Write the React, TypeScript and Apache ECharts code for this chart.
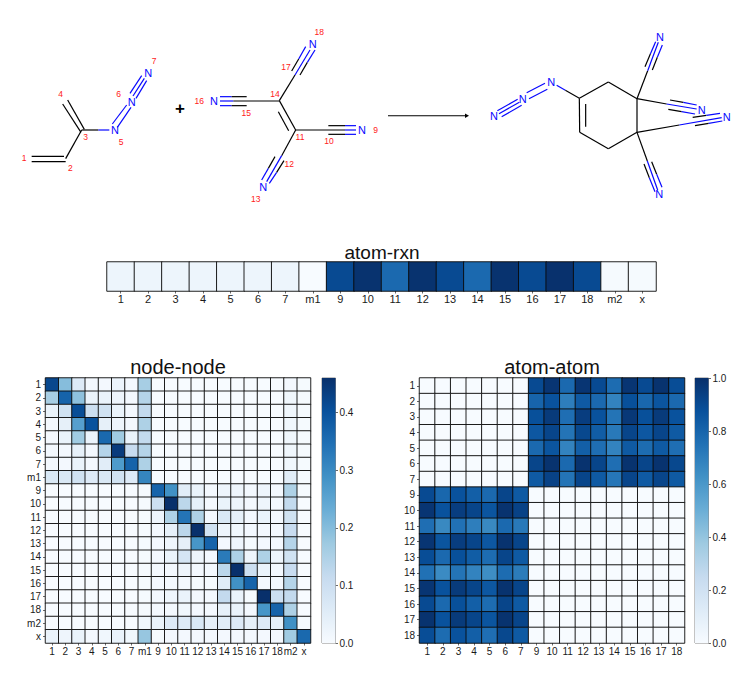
import React, { useEffect, useRef } from "react";
import * as echarts from "echarts";

const nodeLabels = ["1","2","3","4","5","6","7","m1","9","10","11","12","13","14","15","16","17","18","m2","x"];
const atomLabels = ["1","2","3","4","5","6","7","9","10","11","12","13","14","15","16","17","18"];
const blues = ["#f7fbff","#deebf7","#c6dbef","#9ecae1","#6baed6","#4292c6","#2171b5","#08519c","#08306b"];

const atomRxnValues = [0.05,0.05,0.05,0.05,0.05,0.05,0.05,0.0,0.9,0.99,0.78,0.99,0.9,0.78,0.99,0.9,0.995,0.9,0.01,0.01];

const nodeNode = [
  [.42,.20,.06,.01,.01,.025,.01,.16,0,0,0,0,0,0,0,0,0,0,.01,.005],
  [.16,.37,.19,.03,.03,.02,.01,.14,0,0,0,0,0,0,0,0,0,0,.015,.005],
  [.03,.09,.41,.10,.09,.03,.01,.12,0,0,0,0,0,0,0,0,0,0,.015,.005],
  [.01,.04,.26,.40,.04,.02,.01,.15,0,0,0,0,0,0,0,0,0,0,.015,.005],
  [.01,.03,.17,.03,.36,.17,.03,.12,0,0,0,0,0,0,0,0,0,0,.015,.005],
  [.01,.01,.04,.01,.14,.44,.11,.14,0,0,0,0,0,0,0,0,0,0,.015,.005],
  [.01,.01,.03,.01,.05,.27,.37,.15,0,0,0,0,0,0,0,0,0,0,.015,.005],
  [.07,.07,.09,.06,.07,.09,.06,.31,0,0,0,0,0,0,0,0,0,0,.05,.005],
  [0,0,0,0,0,0,0,.005,.37,.29,.05,.03,.01,.02,.02,.01,.02,.01,.15,.005],
  [0,0,0,0,0,0,0,.005,.10,.46,.13,.04,.01,.03,.02,.01,.02,.01,.12,0],
  [0,0,0,0,0,0,0,.005,.02,.15,.34,.15,.01,.07,.04,.01,.03,.01,.09,0],
  [0,0,0,0,0,0,0,.005,.01,.04,.13,.46,.09,.02,.015,.01,.01,.01,.11,0],
  [0,0,0,0,0,0,0,.005,.01,.02,.04,.28,.37,.01,.02,.005,.01,.01,.14,0],
  [0,0,0,0,0,0,0,.005,.01,.03,.08,.02,.01,.33,.15,.02,.15,.02,.09,0],
  [0,0,0,0,0,0,0,.005,.01,.01,.02,.01,.01,.13,.46,.10,.03,.01,.11,0],
  [0,0,0,0,0,0,0,.005,.01,.01,.01,.005,.005,.05,.29,.37,.01,.01,.14,0],
  [0,0,0,0,0,0,0,.005,.01,.02,.03,.01,.01,.12,.03,.005,.46,.10,.12,0],
  [0,0,0,0,0,0,0,.005,.01,.01,.015,.01,.01,.04,.03,.01,.28,.37,.15,0],
  [0,0,0,0,0,0,0,.015,.03,.06,.06,.07,.04,.05,.06,.04,.06,.04,.29,.005],
  [.03,.02,.03,.01,.015,.03,.015,.18,.005,.01,.01,.01,.01,.01,.01,.01,.01,.01,.17,.36],
];

const atomAtomTopRight = [
  [.90,.98,.78,.98,.90,.77,.98,.90,.99,.89],
  [.80,.87,.70,.84,.78,.68,.88,.79,.86,.78],
  [.88,.96,.76,.95,.87,.74,.97,.88,.96,.87],
  [.85,.92,.74,.91,.83,.72,.92,.85,.92,.84],
  [.78,.86,.68,.82,.76,.68,.84,.77,.84,.76],
  [.92,.99,.78,.99,.92,.76,.99,.92,.99,.91],
  [.84,.93,.74,.92,.84,.73,.92,.84,.92,.84],
];
const atomAtomBottomLeft = [
  [.90,.79,.87,.82,.78,.92,.84],
  [.98,.87,.95,.92,.86,.99,.93],
  [.76,.66,.75,.70,.66,.78,.72],
  [.98,.86,.95,.92,.85,.99,.92],
  [.89,.78,.88,.83,.77,.92,.84],
  [.75,.65,.74,.68,.64,.77,.71],
  [.98,.87,.96,.92,.85,.99,.92],
  [.90,.78,.88,.82,.77,.92,.84],
  [.99,.87,.96,.92,.86,.99,.92],
  [.89,.77,.87,.82,.76,.91,.84],
];
const nodeBarTicks = [0, 0.1, 0.2, 0.3, 0.4];
const atomBarTicks = [0, 0.2, 0.4, 0.6, 0.8, 1.0];
const nodeMax = 0.46;

const FONT = "Liberation Sans";
const TICK = "#1a1a1a";
const BLUE = "#0808ff";
const BLACK = "#000000";

function cells(rows: number[][]) {
  const out: number[][] = [];
  rows.forEach((r, j) => r.forEach((v, i) => out.push([i, j, v])));
  return out;
}
function atomRows() {
  const rows: number[][] = [];
  atomAtomTopRight.forEach((r) => rows.push([0,0,0,0,0,0,0,...r]));
  atomAtomBottomLeft.forEach((r) => rows.push([...r,0,0,0,0,0,0,0,0,0,0]));
  return rows;
}

// Molecule sketch: the scheme above the charts, in local drawing units of 1/3 px.
type Seg = [number, number, number, number, string?];
const leftScheme: Seg[] = [
  [95,439,192,439],[95,455,197,455],[197,446,245,360],[243,367,188,282],[253,358,203,270],
  [245,360,295,360],[295,360,328,360,BLUE],[337,342,380,285,BLUE],[352,352,393,292,BLUE],
  [390,250,425,197,BLUE],[399,258,433,205,BLUE],[408,265,440,212,BLUE],
  [660,273,700,273,BLUE],[700,273,838,273],[660,260,695,260,BLUE],[695,260,740,260],[660,287,695,287,BLUE],[695,287,740,287],
  [838,272,887,360],[835,305,866,362],
  [887,360,1035,360],[1035,360,1068,360,BLUE],[985,347,1035,347],[1035,347,1068,347,BLUE],[985,373,1035,373],[1035,373,1068,373,BLUE],
  [887,360,845,437],[845,437,800,515,BLUE],[825,440,805,475],[805,475,785,510,BLUE],[852,452,830,487],[830,487,808,520,BLUE],
  [838,272,885,195],[885,195,930,120,BLUE],[875,183,896,147],[896,147,917,110,BLUE],[900,195,922,157],[922,157,945,120,BLUE],
];
const rightScheme: Seg[] = [
  [352,302,413,268,BLUE],[357,311,418,277,BLUE],[365,320,425,286,BLUE],
  [440,248,495,220,BLUE],[447,266,502,238,BLUE],
  [530,226,556,241,BLUE],[556,241,598,265],
  [598,265,685,216],[685,216,771,266],[771,266,771,367],[771,367,685,416],[685,416,599,367],[598,265,599,367],[617,282,617,350],
  [771,266,803,182],[803,182,835,97,BLUE],[795,170,811,132],[811,132,827,95,BLUE],[817,180,832,142],[832,142,847,105,BLUE],
  [771,266,860,282],[860,282,950,297,BLUE],[870,270,910,277],[910,277,950,285,BLUE],[865,298,905,305],[905,305,945,312,BLUE],
  [771,367,898,345],[898,345,1025,323,BLUE],[938,322,979,316],[979,316,1020,310,BLUE],[945,347,986,340],[986,340,1027,333,BLUE],
  [771,367,802,453],[802,453,833,540,BLUE],[792,462,808,503],[808,503,825,545,BLUE],[815,455,830,493],[830,493,846,532,BLUE],
];
const leftAtoms: [string, number, number][] = [["N",345,360],["N",395,275],["N",445,188],["N",642,273],["N",1086,360],["N",790,530],["N",938,103]];
const rightAtoms: [string, number, number][] = [["N",342,318],["N",428,266],["N",514,217],["N",840,82],["N",965,300],["N",1040,320],["N",838,552]];
const indexLabels: [string, number, number][] = [
  ["1",72,445],["2",211,475],["3",257,382],["4",182,253],["5",363,396],["6",356,253],["7",462,152],
  ["16",598,273],["15",739,309],["14",825,253],["17",858,170],["18",958,65],["11",900,380],["12",868,462],["13",767,568],["10",987,393],["9",1127,360],
];

function schemeGraphics() {
  const els: any[] = [];
  const lx = (x: number) => x / 3, ly = (y: number) => 10 + y / 3, rx = (x: number) => 380 + x / 3;
  const addSeg = (s: Seg, fx: (n: number) => number) => els.push({
    type: "line", silent: true,
    shape: { x1: fx(s[0]), y1: ly(s[1]), x2: fx(s[2]), y2: ly(s[3]) },
    style: { stroke: s[4] || BLACK, lineWidth: 1.2 },
  });
  leftScheme.forEach((s) => addSeg(s, lx));
  rightScheme.forEach((s) => addSeg(s, rx));
  const addText = (text: string, x: number, y: number, fill: string, size: number, weight = "normal") => els.push({
    type: "text", silent: true, x, y,
    style: { text, fill, fontSize: size, fontFamily: FONT, fontWeight: weight, align: "center", verticalAlign: "middle" },
  });
  leftAtoms.forEach((a) => addText(a[0], lx(a[1]), ly(a[2]), BLUE, 11));
  rightAtoms.forEach((a) => addText(a[0], rx(a[1]), ly(a[2]), BLUE, 11));
  indexLabels.forEach((a) => addText(a[0], lx(a[1]), ly(a[2]), "#ff2020", 8.5));
  addText("+", lx(540), ly(295), "#000", 17, "bold");
  els.push({ type: "line", silent: true, shape: { x1: 388, y1: 115.7, x2: 466, y2: 115.7 }, style: { stroke: BLACK, lineWidth: 1.1 } });
  els.push({ type: "polygon", silent: true, shape: { points: [[465, 113.5],[469, 115.7],[465, 118]] }, style: { fill: BLACK } });
  return els;
}

const mapGrid = (left: number, top: number, width: number, height: number) => ({
  left, top, width, height, containLabel: false, show: false,
});
const catX = (labels: string[], gridIndex: number, size = 10, margin = 3.5) => ({
  type: "category", gridIndex, data: labels, position: "bottom",
  axisLine: { show: false }, splitLine: { show: false },
  axisTick: { show: true, alignWithLabel: true, length: 2.5, lineStyle: { color: "#444", width: 0.8 } },
  axisLabel: { interval: 0, color: TICK, fontFamily: FONT, fontSize: size, margin },
});
const catY = (labels: string[], gridIndex: number, size = 10) => ({
  type: "category", gridIndex, data: labels, inverse: true,
  axisLine: { show: false }, splitLine: { show: false },
  axisTick: { show: true, alignWithLabel: true, length: 2.5, lineStyle: { color: "#444", width: 0.8 } },
  axisLabel: { interval: 0, color: TICK, fontFamily: FONT, fontSize: size, margin: 4.5 },
});
const heat = (i: number, data: number[][]) => ({
  type: "heatmap", xAxisIndex: i, yAxisIndex: i, data, animation: false,
  itemStyle: { borderColor: "#0a0a0a", borderWidth: 0.9 }, emphasis: { disabled: true },
});
const ramp = { type: "linear", x: 0, y: 1, x2: 0, y2: 0,
  colorStops: blues.map((c, k) => ({ offset: k / (blues.length - 1), color: c })) };
const barAxisY = (gridIndex: number, max: number, ticks: number[], digits: number) => ({
  type: "value", gridIndex, position: "right", min: 0, max,
  splitLine: { show: false }, axisLine: { show: false },
  axisTick: { show: true, length: 2.5, customValues: ticks, lineStyle: { color: "#444", width: 0.8 } },
  axisLabel: { customValues: ticks, color: TICK, fontFamily: FONT, fontSize: 10, margin: 4, formatter: (v: number) => v.toFixed(digits) },
});
const barSeries = (i: number, value: number) => ({
  type: "bar", xAxisIndex: i, yAxisIndex: i, data: [value], barWidth: "100%", itemStyle: { color: ramp }, silent: true,
});

export default function App() {
  const ref = useRef<HTMLDivElement>(null);
  useEffect(() => {
    const chart = echarts.init(ref.current!, undefined, { renderer: "svg" });
    const titleStyle = { fontFamily: FONT, fontWeight: "normal", color: "#111" };
    const option: any = {
      animation: false,
      backgroundColor: "#fff",
      title: [
        { text: "atom-rxn", left: 377, top: 238, textAlign: "center", textStyle: { ...titleStyle, fontSize: 19 } },
        { text: "node-node", left: 173, top: 352, textAlign: "center", textStyle: { ...titleStyle, fontSize: 20 } },
        { text: "atom-atom", left: 547, top: 352, textAlign: "center", textStyle: { ...titleStyle, fontSize: 20 } },
      ],
      grid: [
        mapGrid(107, 262, 549, 29),
        mapGrid(45.5, 378, 265, 265),
        mapGrid(419.5, 378, 265, 265),
        { left: 322, top: 378, width: 13.5, height: 265, show: true, borderColor: "#888", borderWidth: 1, backgroundColor: "transparent" },
        { left: 695, top: 378, width: 13.5, height: 265, show: true, borderColor: "#888", borderWidth: 1, backgroundColor: "transparent" },
      ],
      xAxis: [
        catX(nodeLabels, 0, 11, 2.5),
        catX(nodeLabels, 1),
        catX(atomLabels, 2),
        { type: "category", gridIndex: 3, data: [""], axisLine: { show: false }, axisTick: { show: false }, axisLabel: { show: false } },
        { type: "category", gridIndex: 4, data: [""], axisLine: { show: false }, axisTick: { show: false }, axisLabel: { show: false } },
      ],
      yAxis: [
        { type: "category", gridIndex: 0, data: [""], axisLine: { show: false }, axisTick: { show: false }, axisLabel: { show: false } },
        catY(nodeLabels, 1),
        catY(atomLabels, 2),
        barAxisY(3, nodeMax, nodeBarTicks, 1),
        barAxisY(4, 1, atomBarTicks, 1),
      ],
      visualMap: [
        { show: false, type: "continuous", seriesIndex: 0, min: 0, max: 1, inRange: { color: blues } },
        { show: false, type: "continuous", seriesIndex: 1, min: 0, max: nodeMax, inRange: { color: blues } },
        { show: false, type: "continuous", seriesIndex: 2, min: 0, max: 1, inRange: { color: blues } },
      ],
      series: [
        heat(0, atomRxnValues.map((v, i) => [i, 0, v])),
        heat(1, cells(nodeNode)),
        heat(2, cells(atomRows())),
        barSeries(3, nodeMax),
        barSeries(4, 1),
      ],
      graphic: schemeGraphics(),
    };
    chart.setOption(option);
    return () => chart.dispose();
  }, []);
  return <div ref={ref} style={{ position: "fixed", left: 0, top: 0, width: 747, height: 698 }} />;
}
